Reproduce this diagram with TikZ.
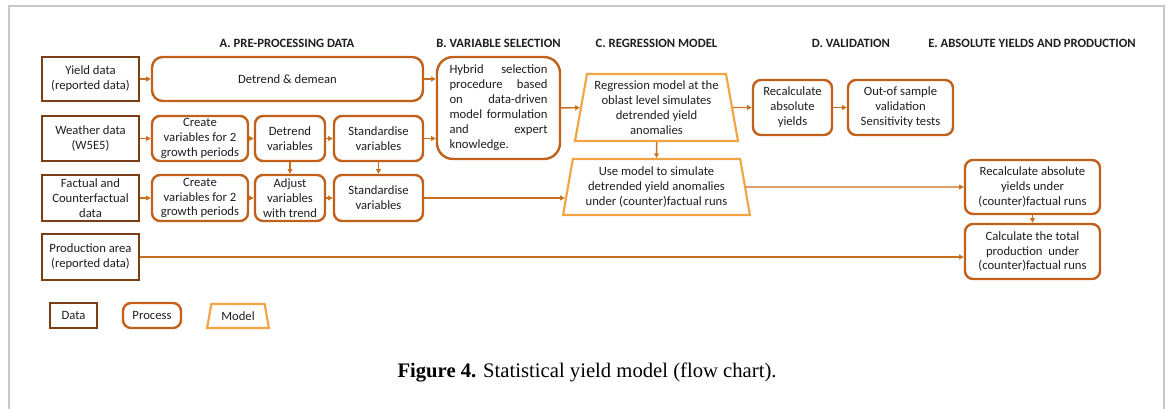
\documentclass[tikz,border=0pt]{standalone}
\usepackage{fontspec}
\setmainfont{Carlito}
\newfontfamily\capfont{Liberation Serif}
\usetikzlibrary{shapes.geometric,arrows.meta}
\definecolor{datac}{HTML}{7B3F16}
\definecolor{procc}{HTML}{C0601A}
\definecolor{modelc}{HTML}{F2A443}
\definecolor{arrowc}{HTML}{C8701E}
\definecolor{framec}{HTML}{C8C8C8}
\definecolor{txtc}{HTML}{1E1E1E}
\newlength{\hyw}
\setlength{\hyw}{73.5pt}
\newcommand{\jline}[1]{\makebox[\hyw][s]{#1}}
\tikzset{
  wh/.style 2 args={minimum width={#1*0.75pt}, minimum height={#2*0.75pt}},
  base/.style={font=\fontsize{9.5}{11.2}\selectfont, text=txtc, align=center, inner sep=1pt},
  databox/.style={base, draw=datac, line width=2.2pt, rectangle},
  procbox/.style={base, draw=procc, line width=1.8pt, rectangle, rounded corners=6pt},
  modelbox/.style={base, draw=modelc, line width=1.6pt, trapezium, trapezium stretches=true,
    trapezium left angle=79, trapezium right angle=79},
  head/.style={font=\fontsize{9.5}{11}\selectfont\bfseries, text=txtc},
  conn/.style={draw=arrowc, line width=1.1pt, -{Triangle[length=3.5pt,width=3.5pt]}},
}
\begin{document}
\begin{tikzpicture}[x=0.75pt,y=-0.75pt]
\useasboundingbox (0,0) rectangle (1168,409);
% page frame
\draw[framec, line width=1.5pt] (9,409) -- (9,6) -- (1164,6) -- (1164,409);

% stage headings
\node[head] (hA) at (287,43) {A. PRE-PROCESSING DATA};
\node[head] (hB) at (498.5,43) {B. VARIABLE SELECTION};
\node[head] (hC) at (656.5,43) {C. REGRESSION MODEL};
\node[head] (hD) at (851,43) {D. VALIDATION};
\node[head] (hE) at (1032,43) {E. ABSOLUTE YIELDS AND PRODUCTION};

% input data
\node[databox, wh={97}{44}] (yd) at (90.5,79) {Yield data\\(reported data)};
\node[databox, wh={97}{45}] (wd) at (90.5,138.5) {Weather data\\(W5E5)};
\node[databox, wh={97}{46}] (fd) at (90.5,198) {Factual and\\Counterfactual\\data};
\node[databox, wh={97}{46}] (pa) at (90.5,257) {Production area\\(reported data)};

% pre-processing
\node[procbox, rounded corners=8pt, wh={271}{44}] (dd) at (287.5,79) {Detrend \& demean};
\node[procbox, wh={96}{45}] (cv1) at (200,138.5) {Create\\variables for 2\\growth periods};
\node[procbox, wh={70}{45}] (dv) at (290,138.5) {Detrend\\variables};
\node[procbox, wh={89}{45}] (sv1) at (378.5,138.5) {Standardise\\variables};
\node[procbox, wh={96}{46}] (cv2) at (200,198) {Create\\variables for 2\\growth periods};
\node[procbox, wh={70}{46}] (av) at (290,198) {Adjust\\variables\\with trend};
\node[procbox, wh={89}{46}] (sv2) at (378.5,198) {Standardise\\variables};

% variable selection (justified lines)
\node[procbox, rounded corners=12pt, wh={123}{102}, align=left] (hy) at (498.5,108)
  {\jline{Hybrid \hfill selection}\\\jline{procedure \hfill based}\\\jline{on \hfill data-driven}\\
   \jline{model \hfill formulation}\\\jline{and \hfill expert}\\knowledge.};

% regression model
\node[modelbox, wh={163}{67}] (rg) at (656.5,107.5) {Regression model at the\\oblast level simulates\\detrended yield\\anomalies};
\node[modelbox, wh={187}{56}] (um) at (656.5,187) {Use model to simulate\\detrended yield anomalies\\under (counter)factual runs};

% validation
\node[procbox, wh={79}{55}] (ra) at (792.5,107.5) {Recalculate\\absolute\\yields};
\node[procbox, wh={105}{55}] (oos) at (900.5,107.5) {Out-of sample\\validation\\Sensitivity tests};

% absolute yields and production
\node[procbox, wh={135}{54}] (ru) at (1032.5,187) {Recalculate absolute\\yields under\\(counter)factual runs};
\node[procbox, wh={135}{55}] (ct) at (1032.5,251.5) {Calculate the total\\production\ \ under\\(counter)factual runs};

% legend
\node[databox, line width=2pt, wh={47}{25}] (lgd) at (73.5,315.5) {Data};
\node[procbox, wh={58}{25}] (lgp) at (152,315.5) {Process};
\node[modelbox, trapezium left angle=76, trapezium right angle=76, wh={62}{24}] (lgm) at (238,316) {Model};

% caption
\node[font=\capfont\fontsize{15.5}{18}\selectfont, text=black] (cap) at (587,373)
  {\textbf{Figure 4.} Statistical yield model (flow chart).};

% connectors
\draw[conn] (yd) -- (dd);
\draw[conn] (wd) -- (cv1);
\draw[conn] (cv1) -- (dv);
\draw[conn] (dv) -- (sv1);
\draw[conn] (dv) -- (av);
\draw[conn] (sv1) -- (sv2);
\draw[conn] (fd) -- (cv2);
\draw[conn] (cv2) -- (av);
\draw[conn] (av) -- (sv2);
\draw[conn] (dd.east) -- (dd.east -| hy.west);
\draw[conn] (sv1.east) -- (sv1.east -| hy.west);
\draw[conn] (hy) -- (rg);
\draw[conn] (rg) -- (ra);
\draw[conn] (ra) -- (oos);
\draw[conn] (rg) -- (um);
\draw[conn] (sv2.east) -- ([xshift=-1.5pt]sv2.east -| um.west);
\draw[conn] (um) -- (ru);
\draw[conn] (ru) -- (ct);
\draw[conn] (pa.east) -- (pa.east -| ct.west);
\end{tikzpicture}
\end{document}
